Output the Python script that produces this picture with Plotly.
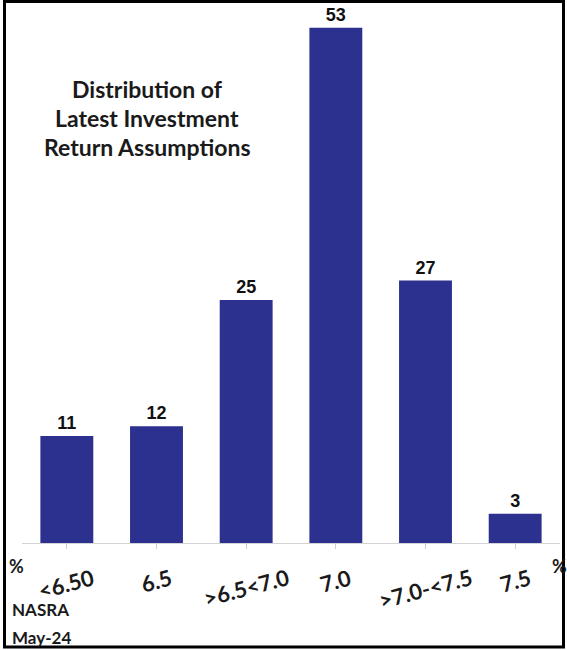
import plotly.graph_objects as go

categories = ["<6.50", "6.5", ">6.5<7.0", "7.0", ">7.0-<7.5", "7.5"]
counts = [11, 12, 25, 53, 27, 3]
title_lines = ["Distribution of", "Latest Investment", "Return Assumptions"]
source_lines = ["NASRA", "May-24"]

W, H = 567, 650
ML, MR, MT, MB = 22, 7, 5, 107
PW = W - ML - MR
PH = H - MT - MB
BASE = MT + PH  # pixel y of baseline


def px_x(px):
    return (px - ML) / PW


def px_y(py):
    return (BASE - py) / PH


def b(s):
    return "<b>" + s.replace("<", "&lt;").replace(">", "&gt;") + "</b>"


fig = go.Figure()
fig.add_trace(go.Bar(
    x=categories, y=counts, text=[str(c) for c in counts],
    textposition="outside", cliponaxis=False,
    textfont=dict(family="Liberation Sans, Arial", size=18, color="#111111", weight=700),
    marker=dict(color="#2c3190", line=dict(width=0)),
    width=0.59,
))

annotations = []
for i, c in enumerate(categories):
    annotations.append(dict(
        x=i, xref="x", y=px_y(561), yref="paper", text=b(c), showarrow=False,
        textangle=-15, xanchor="center", yanchor="top",
        font=dict(family="Lato, Open Sans", size=22, color="#1a1a1a"),
    ))
for i, line in enumerate(title_lines):
    annotations.append(dict(
        x=px_x(147), y=px_y(89 + 29 * i), xref="paper", yref="paper", text=b(line),
        showarrow=False, xanchor="center", yanchor="middle", align="center",
        font=dict(family="Lato, Open Sans", size=23, color="#1a1a1a"),
    ))
for xp in (16, 559):
    annotations.append(dict(
        x=px_x(xp), y=px_y(566), xref="paper", yref="paper", text=b("%"),
        showarrow=False, xanchor="center", yanchor="middle",
        font=dict(family="Lato, Open Sans", size=18, color="#1a1a1a"),
    ))
for i, line in enumerate(source_lines):
    annotations.append(dict(
        x=px_x(10), y=px_y(609 + 28 * i), xref="paper", yref="paper", text=b(line),
        showarrow=False, xanchor="left", yanchor="middle",
        font=dict(family="Lato, Open Sans", size=17, color="#1a1a1a"),
    ))

fig.update_layout(
    width=W, height=H,
    margin=dict(l=ML, r=MR, t=MT, b=MB),
    paper_bgcolor="white", plot_bgcolor="white",
    showlegend=False,
    bargap=0.41,
    annotations=annotations,
    shapes=[dict(
        type="rect", xref="paper", yref="paper",
        x0=px_x(4.5), x1=px_x(563.5), y0=px_y(647), y1=px_y(1.5),
        line=dict(color="black", width=3), fillcolor="rgba(0,0,0,0)", layer="above",
    )],
)
fig.update_xaxes(
    showline=True, linecolor="#d3d3d3", linewidth=1,
    ticks="outside", ticklen=5, tickcolor="#cfcfcf",
    showticklabels=False, showgrid=False, zeroline=False,
    range=[-0.5, 5.5],
)
fig.update_yaxes(
    range=[0, PH / 9.72], showgrid=False, zeroline=False,
    showticklabels=False, showline=False,
)

fig.write_html("out.html")
